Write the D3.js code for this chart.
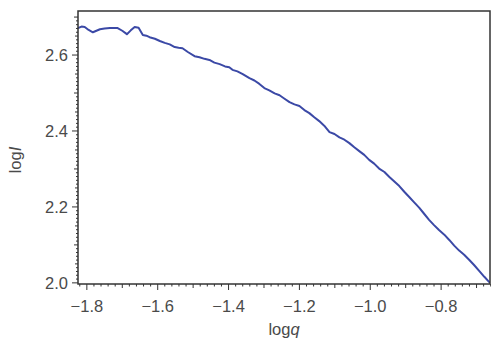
<!DOCTYPE html>
<html>
<head>
<meta charset="utf-8">
<script src="https://cdn.jsdelivr.net/npm/d3@7"></script>
<style>
  body { margin: 0; background: #fff; }
  text { font-family: "Liberation Sans", Arial, sans-serif; }
</style>
</head>
<body>
<div id="chart"></div>
<script>
// Dimensiones generales
const W = 491, H = 347;
const margin = { top: 11, right: 1, bottom: 63, left: 78 };
const width = W - margin.left - margin.right;
const height = H - margin.top - margin.bottom;

// Datos (log q, log I)
const logQ = [
  -1.825, -1.815, -1.806, -1.795, -1.783, -1.773, -1.763, -1.750, -1.735, -1.724,
  -1.713, -1.700, -1.687, -1.676, -1.665, -1.654, -1.642, -1.632, -1.623, -1.608,
  -1.594, -1.580, -1.566, -1.552, -1.541, -1.530, -1.515, -1.496, -1.482, -1.468,
  -1.454, -1.440, -1.425, -1.410, -1.398, -1.389, -1.375, -1.360, -1.341, -1.327,
  -1.313, -1.299, -1.285, -1.270, -1.256, -1.242, -1.228, -1.214, -1.200, -1.186,
  -1.172, -1.158, -1.144, -1.130, -1.115, -1.101, -1.087, -1.073, -1.059, -1.045,
  -1.031, -1.017, -1.003, -0.989, -0.975, -0.960, -0.946, -0.932, -0.918, -0.904,
  -0.890, -0.876, -0.862, -0.848, -0.834, -0.820, -0.806, -0.791, -0.777, -0.763,
  -0.749, -0.735, -0.721, -0.707, -0.692, -0.678, -0.662
];
const logI = [
  2.671, 2.675, 2.674, 2.666, 2.660, 2.664, 2.668, 2.670, 2.671, 2.671,
  2.671, 2.664, 2.655, 2.665, 2.674, 2.672, 2.653, 2.651, 2.647, 2.643,
  2.637, 2.632, 2.628, 2.621, 2.619, 2.618, 2.608, 2.597, 2.594, 2.590,
  2.587, 2.580, 2.576, 2.570, 2.568, 2.561, 2.557, 2.550, 2.539, 2.533,
  2.524, 2.513, 2.507, 2.499, 2.494, 2.485, 2.476, 2.470, 2.466, 2.455,
  2.447, 2.436, 2.426, 2.414, 2.397, 2.392, 2.383, 2.377, 2.368, 2.357,
  2.347, 2.337, 2.324, 2.314, 2.301, 2.292, 2.279, 2.267, 2.255, 2.240,
  2.226, 2.212, 2.198, 2.182, 2.166, 2.152, 2.139, 2.127, 2.113, 2.098,
  2.085, 2.074, 2.061, 2.047, 2.031, 2.016, 2.000
];

const xTicks = [-1.8, -1.6, -1.4, -1.2, -1.0, -0.8];
const yTicks = [2.0, 2.2, 2.4, 2.6];

const data = logQ.map((q, i) => ({ q, I: logI[i] }));

const svg = d3.select("#chart").append("svg")
  .attr("width", W).attr("height", H)
  .append("g")
  .attr("transform", `translate(${margin.left},${margin.top})`);

const x = d3.scaleLinear().domain([-1.825, -0.662]).range([0, width]);
const y = d3.scaleLinear().domain([1.997, 2.716]).range([height, 0]);

const axisColor = "#333";
const labelColor = "#4a4a4a";
const fontSize = 16.5;

// Ticks menores
const xMinor = d3.range(-1.82, -0.66, 0.02).map(v => +v.toFixed(2));
const yMinor = d3.range(2.0, 2.71, 0.01).map(v => +v.toFixed(2));

svg.append("g").selectAll("line").data(xMinor).join("line")
  .attr("x1", d => x(d)).attr("x2", d => x(d))
  .attr("y1", height).attr("y2", d => {
    const r = Math.round(d * 10) / 10;
    if (Math.abs(d - r) < 1e-6) return height + (Math.abs(Math.round(d * 5) - d * 5) < 1e-6 ? 6 : 4);
    return height + 2.5;
  })
  .attr("stroke", axisColor).attr("stroke-width", 1);

svg.append("g").selectAll("line").data(yMinor).join("line")
  .attr("y1", d => y(d)).attr("y2", d => y(d))
  .attr("x1", 0).attr("x2", d => {
    const r = Math.round(d * 10) / 10;
    if (Math.abs(d - r) < 1e-6) return (Math.abs(Math.round(d * 5) - d * 5) < 1e-6 ? -6 : -4);
    if (Math.abs(Math.round(d * 20) - d * 20) < 1e-6) return -3;
    return -2;
  })
  .attr("stroke", axisColor).attr("stroke-width", 1);

// Etiquetas de los ejes
svg.append("g").selectAll("text").data(xTicks).join("text")
  .attr("x", d => x(d)).attr("y", height + 28)
  .attr("text-anchor", "middle")
  .attr("font-size", fontSize).attr("fill", labelColor)
  .text(d => d3.format(".1f")(d).replace("-", "\u2212"));

svg.append("g").selectAll("text").data(yTicks).join("text")
  .attr("x", -10).attr("y", d => y(d))
  .attr("dy", "0.35em")
  .attr("text-anchor", "end")
  .attr("font-size", fontSize).attr("fill", labelColor)
  .text(d => d3.format(".1f")(d));

const xl = svg.append("text")
  .attr("x", width / 2).attr("y", height + 51)
  .attr("text-anchor", "middle")
  .attr("font-size", fontSize).attr("fill", labelColor);
xl.append("tspan").text("log");
xl.append("tspan").attr("font-style", "italic").text("q");

const yl = svg.append("text")
  .attr("transform", `translate(${-57},${160 - margin.top}) rotate(-90)`)
  .attr("text-anchor", "middle")
  .attr("font-size", fontSize).attr("fill", labelColor);
yl.append("tspan").text("log");
yl.append("tspan").attr("font-style", "italic").text("I");

// Curva
const line = d3.line().x(d => x(d.q)).y(d => y(d.I));

svg.append("clipPath").attr("id", "clip")
  .append("rect").attr("width", width).attr("height", height);

svg.append("path")
  .datum(data)
  .attr("clip-path", "url(#clip)")
  .attr("fill", "none")
  .attr("stroke", "#3b49a6")
  .attr("stroke-width", 2)
  .attr("stroke-linejoin", "round")
  .attr("d", line);

// Marco
svg.append("rect")
  .attr("width", width).attr("height", height)
  .attr("fill", "none")
  .attr("stroke", axisColor)
  .attr("stroke-width", 1.5);
</script>
</body>
</html>
